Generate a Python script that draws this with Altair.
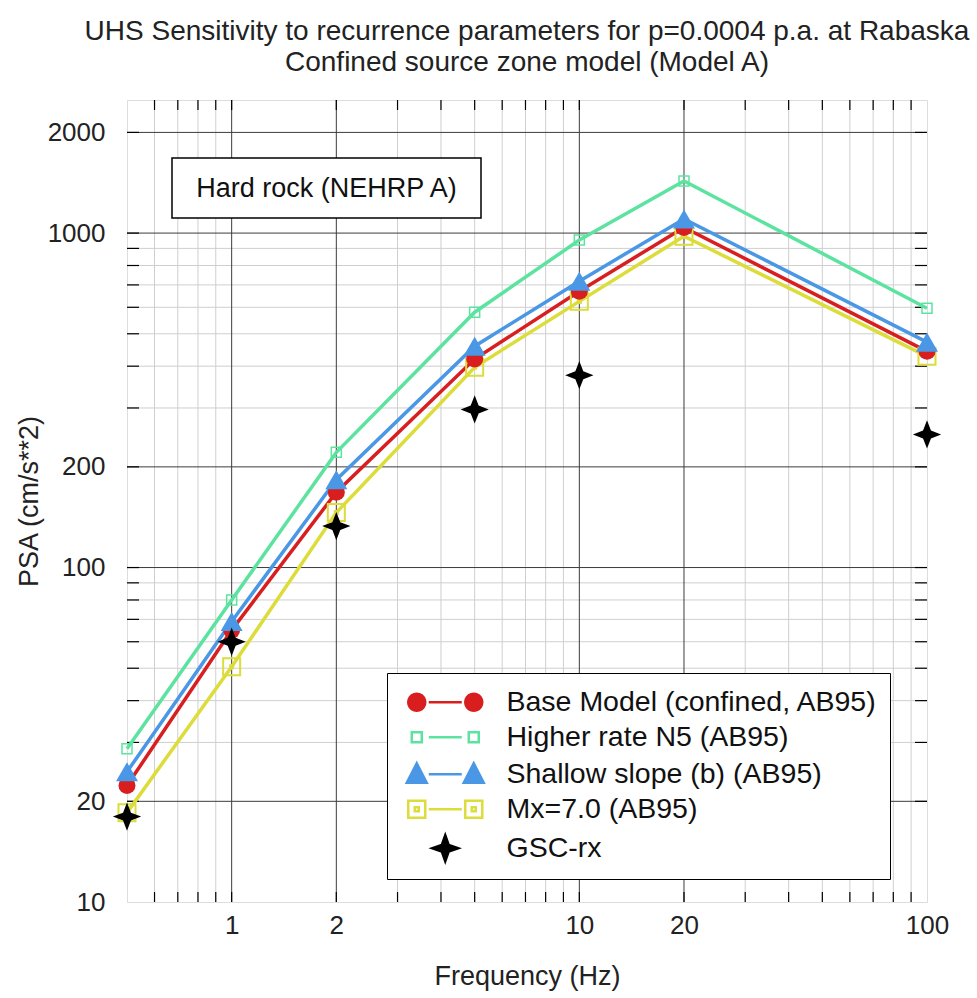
import math
import altair as alt
import pandas as pd

# ---------------- text ----------------
TITLE_LINES = [
    "UHS Sensitivity to recurrence parameters for p=0.0004 p.a. at Rabaska",
    "Confined source zone model (Model A)",
]
X_TITLE = "Frequency (Hz)"
Y_TITLE = "PSA (cm/s**2)"
NOTE = "Hard rock (NEHRP A)"

# ---------------- data ----------------
FREQ = [0.5, 1, 2, 5, 10, 20, 100]
BASE = [22.3, 65, 168, 420, 670, 1040, 443]
HIGHER = [28.7, 80, 221, 580, 953, 1432, 596]
SHALLOW = [24.5, 69, 183, 459, 718, 1102, 472]
MX7 = [18.5, 50.5, 146, 397, 625, 979, 428]
GSC_FREQ = [0.5, 1, 2, 5, 10, 100]
GSC = [18.0, 60, 133, 297, 376, 250]

SERIES = [
    "Base Model (confined, AB95)",
    "Higher rate N5 (AB95)",
    "Shallow slope (b) (AB95)",
    "Mx=7.0 (AB95)",
    "GSC-rx",
]
COLORS = ["#d81e1e", "#5de3a0", "#4a97e6", "#dcdc3a", "#000000"]

# ---------------- axes / grid ----------------
X_LABELS = [1, 2, 10, 20, 100]
Y_LABELS = [10, 20, 100, 200, 1000, 2000]
X_MAJOR = [1, 2, 10, 20]
X_MINOR = [0.6, 0.7, 0.8, 0.9, 3, 4, 5, 6, 7, 8, 9, 30, 40, 50, 60, 70, 80, 90]
Y_MAJOR = [20, 100, 200, 1000, 2000]
Y_MINOR = [30, 40, 50, 60, 70, 80, 90, 300, 400, 500, 600, 700, 800, 900]
X_DOMAIN = [0.5, 100]
Y_DOMAIN = [10, 2500]

FONT = "Liberation Sans"
W, H = 800, 802

XS = alt.Scale(type="log", domain=X_DOMAIN, nice=False)
YS = alt.Scale(type="log", domain=Y_DOMAIN, nice=False)

XA = alt.Axis(values=X_LABELS, format="~g", title=X_TITLE, grid=False, ticks=False,
              domain=False, labelFontSize=26, labelFont=FONT, labelColor="#222",
              labelPadding=10, labelFlush=False, labelOverlap=False,
              titleFont=FONT, titleFontSize=27, titleFontWeight="normal",
              titleColor="#222", titlePadding=25)
YA = alt.Axis(values=Y_LABELS, format="~g", title=Y_TITLE, grid=False, ticks=False,
              domain=False, labelFontSize=26, labelFont=FONT, labelColor="#222",
              labelPadding=22, labelFlush=False, labelOverlap=False,
              titleFont=FONT, titleFontSize=27, titleFontWeight="normal",
              titleColor="#222", titlePadding=4)


def X():
    return alt.X("freq:Q", scale=XS, axis=XA)


def Y():
    return alt.Y("psa:Q", scale=YS, axis=YA)


def vrules(vals, color, sw):
    return alt.Chart(pd.DataFrame({"freq": vals})).mark_rule(
        color=color, strokeWidth=sw).encode(x=X())


def hrules(vals, color, sw):
    return alt.Chart(pd.DataFrame({"psa": vals})).mark_rule(
        color=color, strokeWidth=sw).encode(y=Y())


TICK = 10
x_ticks = pd.DataFrame({"freq": X_MAJOR + X_MINOR})
y_ticks = pd.DataFrame({"psa": Y_MAJOR + Y_MINOR})
ticks = [
    alt.Chart(x_ticks).mark_rule(color="black", strokeWidth=1.2).encode(
        x=X(), y=alt.value(H), y2=alt.value(H - TICK)),
    alt.Chart(x_ticks).mark_rule(color="black", strokeWidth=1.2).encode(
        x=X(), y=alt.value(0), y2=alt.value(TICK)),
    alt.Chart(y_ticks).mark_rule(color="black", strokeWidth=1.2).encode(
        y=Y(), x=alt.value(0), x2=alt.value(TICK + 2)),
    alt.Chart(y_ticks).mark_rule(color="black", strokeWidth=1.2).encode(
        y=Y(), x=alt.value(W), x2=alt.value(W - TICK - 2)),
]

grid = [
    vrules(X_MINOR, "#cfcfcf", 1),
    hrules(Y_MINOR, "#cfcfcf", 1),
    vrules(X_MAJOR, "#3c3c3c", 1),
    hrules(Y_MAJOR, "#3c3c3c", 1),
]


def frame(freqs, vals):
    return pd.DataFrame({"freq": freqs, "psa": vals})


df_base = frame(FREQ, BASE)
df_high = frame(FREQ, HIGHER)
df_shal = frame(FREQ, SHALLOW)
df_mx = frame(FREQ, MX7)
df_gsc = frame(GSC_FREQ, GSC)

LW = 3.5
lines = [
    alt.Chart(df_high).mark_line(color=COLORS[1], strokeWidth=LW).encode(x=X(), y=Y()),
    alt.Chart(df_shal).mark_line(color=COLORS[2], strokeWidth=LW).encode(x=X(), y=Y()),
    alt.Chart(df_mx).mark_line(color=COLORS[3], strokeWidth=LW).encode(x=X(), y=Y()),
    alt.Chart(df_base).mark_line(color=COLORS[0], strokeWidth=LW).encode(x=X(), y=Y()),
]

STAR = "M0,-1 L0.28,-0.28 L1,0 L0.28,0.28 L0,1 L-0.28,0.28 L-1,0 L-0.28,-0.28 Z"

points = [
    alt.Chart(df_mx).mark_point(shape="square", size=289, filled=False, opacity=1,
                                color=COLORS[3], strokeWidth=2).encode(x=X(), y=Y()),
    alt.Chart(df_mx).mark_point(shape="square", size=25, filled=True, opacity=1,
                                color=COLORS[3]).encode(x=X(), y=Y()),
    alt.Chart(df_base).mark_point(shape="circle", size=289, filled=True, opacity=1,
                                  color=COLORS[0]).encode(x=X(), y=Y()),
    alt.Chart(df_shal).mark_point(shape="triangle-up", size=484, filled=True, opacity=1,
                                  color=COLORS[2]).encode(x=X(), y=Y()),
    alt.Chart(df_high).mark_point(shape="square", size=100, filled=False, opacity=1,
                                  color=COLORS[1], strokeWidth=1.5).encode(x=X(), y=Y()),
    alt.Chart(df_gsc).mark_point(shape=STAR, size=800, filled=True, opacity=1,
                                 color=COLORS[4]).encode(x=X(), y=Y()),
]


# ---------------- legend (native legend, composite symbols) ----------------
def poly(cx, cy, r, n=20):
    pts = [(cx + r * math.cos(2 * math.pi * k / n), cy + r * math.sin(2 * math.pi * k / n))
           for k in range(n)]
    return "M" + " L".join(f"{x:.3f},{y:.3f}" for x, y in pts) + " Z"


def sq(cx, cy, h):
    return (f"M{cx-h:.3f},{cy-h:.3f} L{cx+h:.3f},{cy-h:.3f} "
            f"L{cx+h:.3f},{cy+h:.3f} L{cx-h:.3f},{cy+h:.3f} Z")


def tri(cx, cy, h):
    return (f"M{cx:.3f},{cy-h*1.1:.3f} L{cx+h:.3f},{cy+h*0.85:.3f} "
            f"L{cx-h:.3f},{cy+h*0.85:.3f} Z")


MX_ = 2.85
SEG = "M-1.65,0 L1.65,0"
LEG_SHAPES = [
    " ".join([poly(-MX_, 0, 0.85), SEG, poly(MX_, 0, 0.85)]),
    " ".join([sq(-MX_, 0, 0.5), SEG, sq(MX_, 0, 0.5)]),
    " ".join([tri(-MX_, 0, 1.0), SEG, tri(MX_, 0, 1.0)]),
    " ".join([sq(-MX_, 0, 0.85), sq(-MX_, 0, 0.2), SEG, sq(MX_, 0, 0.85), sq(MX_, 0, 0.2)]),
    "M0,-1.3 L0.34,-0.34 L1.3,0 L0.34,0.34 L0,1.3 L-0.34,0.34 L-1.3,0 L-0.34,-0.34 Z",
]
LEG_FILLS = [COLORS[0], "transparent", COLORS[2], "transparent", COLORS[4]]

LEG = alt.Legend(title=" ", titleFontSize=1, titlePadding=2,
                 orient="none", legendX=260, legendY=573,
                 direction="vertical", columns=1,
                 fillColor="white", strokeColor="black", padding=12,
                 labelFont=FONT, labelFontSize=28.5, labelColor="#111", labelLimit=600,
                 symbolSize=400, symbolStrokeWidth=2.5, symbolOffset=32,
                 labelOffset=47, rowPadding=6)

legend_df = pd.DataFrame({"series": SERIES, "freq": [None] * 5, "psa": [None] * 5})
legend_layer = alt.Chart(legend_df).mark_point(filled=True, opacity=1, size=400,
                                                strokeWidth=2.5).encode(
    x=X(), y=Y(),
    shape=alt.Shape("series:N", scale=alt.Scale(domain=SERIES, range=LEG_SHAPES), legend=LEG),
    stroke=alt.Stroke("series:N", scale=alt.Scale(domain=SERIES, range=COLORS), legend=LEG),
    fill=alt.Fill("series:N", scale=alt.Scale(domain=SERIES, range=LEG_FILLS), legend=LEG),
)

# ---------------- annotation box ----------------
note_df = pd.DataFrame({"label": [NOTE]})
note_box = alt.Chart(note_df).mark_rect(fill="white", stroke="black", strokeWidth=1.5).encode(
    x=alt.value(45), x2=alt.value(354), y=alt.value(58), y2=alt.value(118))
note_text = alt.Chart(note_df).mark_text(font=FONT, fontSize=27, color="#111",
                                         align="center", baseline="middle").encode(
    x=alt.value(199.5), y=alt.value(89), text="label:N")

chart = alt.layer(
    *grid, *ticks, *lines, *points, note_box, note_text, legend_layer
).properties(
    width=W, height=H,
    autosize=alt.AutoSizeParams(type="none"),
    padding={"left": 127, "top": 100, "right": 50, "bottom": 96},
    title=alt.TitleParams(text=TITLE_LINES, font=FONT, fontSize=28, fontWeight="normal",
                          color="#222", anchor="middle", offset=22, lineHeight=31),
).configure_view(stroke="black", strokeWidth=2).configure(background="white")

chart.save("out.html", embed_options={"renderer": "svg", "actions": False})
